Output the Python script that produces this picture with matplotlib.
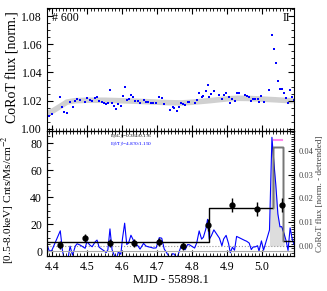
import numpy as np
import matplotlib.pyplot as plt
from matplotlib.ticker import MultipleLocator

plt.rcParams['font.family'] = ['Liberation Serif', 'DejaVu Serif']
plt.rcParams['mathtext.fontset'] = 'stix'

# CoRoT light curve (top panel)
t_corot = [4.386, 4.392, 4.399, 4.423, 4.429, 4.434, 4.442, 4.451, 4.458, 4.466,
           4.471, 4.480, 4.494, 4.499, 4.509, 4.514, 4.523, 4.528, 4.534, 4.542,
           4.549, 4.554, 4.559, 4.565, 4.571, 4.577, 4.583, 4.589, 4.596, 4.601,
           4.607, 4.613, 4.618, 4.625, 4.631, 4.637, 4.644, 4.651, 4.661, 4.668,
           4.675, 4.682, 4.689, 4.697, 4.706, 4.713, 4.720, 4.737, 4.744, 4.749,
           4.756, 4.761, 4.768, 4.773, 4.780, 4.787, 4.792, 4.807, 4.813, 4.820,
           4.827, 4.832, 4.839, 4.844, 4.849, 4.855, 4.862, 4.878, 4.885, 4.890,
           4.897, 4.904, 4.909, 4.915, 4.921, 4.927, 4.933, 4.950, 4.956, 4.963,
           4.969, 4.974, 4.980, 4.987, 4.991, 4.998, 5.004, 5.021, 5.028, 5.033,
           5.039, 5.045, 5.051, 5.056, 5.063, 5.069, 5.074, 5.080, 5.086, 5.091]
f_corot = [1.0111, 1.0094, 1.0106, 1.0224, 1.0153, 1.0122, 1.0111, 1.0193, 1.0158, 1.0200,
           1.0210, 1.0205, 1.0193, 1.0221, 1.0205, 1.0200, 1.0221, 1.0228, 1.0198, 1.0189,
           1.0182, 1.0175, 1.0186, 1.0274, 1.0186, 1.0163, 1.0144, 1.0175, 1.0165, 1.0233,
           1.0295, 1.0205, 1.0210, 1.0243, 1.0224, 1.0198, 1.0198, 1.0182, 1.0205, 1.0193,
           1.0189, 1.0186, 1.0182, 1.0182, 1.0224, 1.0221, 1.0175, 1.0134, 1.0153, 1.0151,
           1.0129, 1.0153, 1.0182, 1.0175, 1.0170, 1.0193, 1.0193, 1.0182, 1.0205, 1.0257,
           1.0224, 1.0233, 1.0269, 1.0311, 1.0228, 1.0245, 1.0271, 1.0240, 1.0210, 1.0240,
           1.0257, 1.0224, 1.0186, 1.0210, 1.0198, 1.0257, 1.0253, 1.0240, 1.0236, 1.0228,
           1.0200, 1.0210, 1.0210, 1.0214, 1.0191, 1.0233, 1.0193, 1.0276, 1.0665, 1.0568,
           1.0465, 1.0340, 1.0285, 1.0285, 1.0253, 1.0221, 1.0182, 1.0276, 1.0228, 1.0205]

# smooth trend (grey line)
t_trend = [4.386, 4.400, 4.423, 4.442, 4.466, 4.500, 4.550, 4.620, 4.680, 4.730,
           4.770, 4.800, 4.850, 4.900, 4.930, 4.960, 4.994, 5.040, 5.091]
f_trend = [1.0110, 1.0125, 1.0160, 1.0190, 1.0200, 1.0203, 1.0203, 1.0198, 1.0192, 1.0186,
           1.0184, 1.0189, 1.0200, 1.0213, 1.0217, 1.0216, 1.0212, 1.0206, 1.0198]

# X-ray binned rates
t_x = [4.423, 4.494, 4.565, 4.635, 4.705, 4.775, 4.846, 4.914, 4.986, 5.057]
r_x = [4.4, 9.6, 6.0, 6.0, 6.7, 3.7, 19.0, 34.0, 31.0, 34.0]
e_x = [3.0, 3.0, 3.0, 3.0, 3.0, 3.0, 4.5, 5.0, 5.0, 5.0]

# Bayesian blocks
block_edges = [4.385, 4.849, 5.031, 5.060, 5.090]
block_levels = [6.7, 32.0, 77.0, 7.4]

t_corot = np.array(t_corot)
f_corot = np.array(f_corot)
detrended = f_corot - np.interp(t_corot, t_trend, f_trend)

fig = plt.figure(figsize=(3.27, 2.91), dpi=100)
ax1 = fig.add_axes([0.1437, 0.5498, 0.7553, 0.4227])
ax2 = fig.add_axes([0.1437, 0.1203, 0.7553, 0.4295])

xlim = (4.385, 5.091)

# top panel
ax1.plot(t_trend, f_trend, color='#d0d0d0', lw=4, solid_capstyle='round', zorder=1)
ax1.plot(t_corot, f_corot, 's', color='blue', ms=2, mew=0, zorder=2)
ax1.set_xlim(xlim)
ax1.set_ylim(0.9985, 1.0857)
ax1.yaxis.set_major_locator(MultipleLocator(0.02))
ax1.yaxis.set_minor_locator(MultipleLocator(0.005))
ax1.xaxis.set_major_locator(MultipleLocator(0.1))
ax1.xaxis.set_minor_locator(MultipleLocator(0.01))
ax1.set_xticklabels([])
ax1.set_ylabel('CoRoT flux [norm.]', fontsize=10, labelpad=4)
ax1.yaxis.set_label_coords(-0.11, 0.52)
ax1.text(0.02, 0.965, '# 600', transform=ax1.transAxes, fontsize=8.5, va='top')
ax1.text(0.985, 0.965, 'II', transform=ax1.transAxes, fontsize=8.5, va='top', ha='right')

# bottom panel
ax3 = ax2.twinx()
ax3.fill_between(t_corot, detrended, 0, where=(t_corot >= 5.02) & (t_corot <= 5.063),
                 color='#dddddd', lw=0, zorder=1)
ax3.plot(t_corot, detrended, color='blue', lw=0.8, zorder=2)
ax3.axhline(0, color='#999999', lw=0.8, ls=':', zorder=1)
ax3.set_ylim(-0.0042, 0.0484)
ax3.yaxis.set_major_locator(MultipleLocator(0.01))
ax3.yaxis.set_minor_locator(MultipleLocator(0.001))
ax3.tick_params(axis='y', which='both', direction='in', labelsize=6, labelcolor='#444444')
ax3.tick_params(axis='y', which='major', length=4)
ax3.tick_params(axis='y', which='minor', length=2)
ax3.set_ylabel('CoRoT flux [norm. - detrended]', fontsize=6.5, color='#444444', labelpad=2)

ax2.set_zorder(ax3.get_zorder() + 1)
ax2.patch.set_visible(False)
ax2.axhline(0, color='#aaaaaa', lw=0.8)
levels = block_levels + [block_levels[-1]]
ax2.step(block_edges, levels, where='post', color='black', lw=1.0)
ax2.plot([block_edges[2], block_edges[2], block_edges[3], block_edges[3]],
         [block_levels[1], block_levels[2], block_levels[2], block_levels[3]],
         color='#777777', lw=1.0)
ax2.errorbar(t_x, r_x, yerr=e_x, fmt='o', color='black', ms=3.5, elinewidth=1, capsize=0)
ax2.plot([5.033, 5.058], [82, 82], color='#ff88ee', lw=1.5)
ax2.set_xlim(xlim)
ax2.set_ylim(-3.7, 89)
ax2.yaxis.set_major_locator(MultipleLocator(20))
ax2.yaxis.set_minor_locator(MultipleLocator(5))
ax2.xaxis.set_major_locator(MultipleLocator(0.1))
ax2.xaxis.set_minor_locator(MultipleLocator(0.01))
ax2.set_ylabel('[0.5-8.0keV] Cnts/Ms/cm$^{-2}$', fontsize=8.2, labelpad=4)
ax2.yaxis.set_label_coords(-0.12, 0.45)
ax2.set_xlabel('MJD - 55898.1', fontsize=9, labelpad=1)
ax2.text(0.255, 0.958, 'E$_{fl}$/L$_{fl}$=0.364/0.176', transform=ax2.transAxes,
         fontsize=3.8, va='center')
ax2.text(0.255, 0.895, 'E$_{fl}$/T$_{fl}$=4.870/1.150', transform=ax2.transAxes,
         fontsize=3.8, va='center', color='blue')

for ax in (ax1, ax2):
    ax.tick_params(which='both', direction='in', top=True, labelsize=8.5)
    ax.tick_params(which='major', length=4)
    ax.tick_params(which='minor', length=2)
ax1.tick_params(which='both', right=True)

fig.savefig('out.png', dpi=100)
